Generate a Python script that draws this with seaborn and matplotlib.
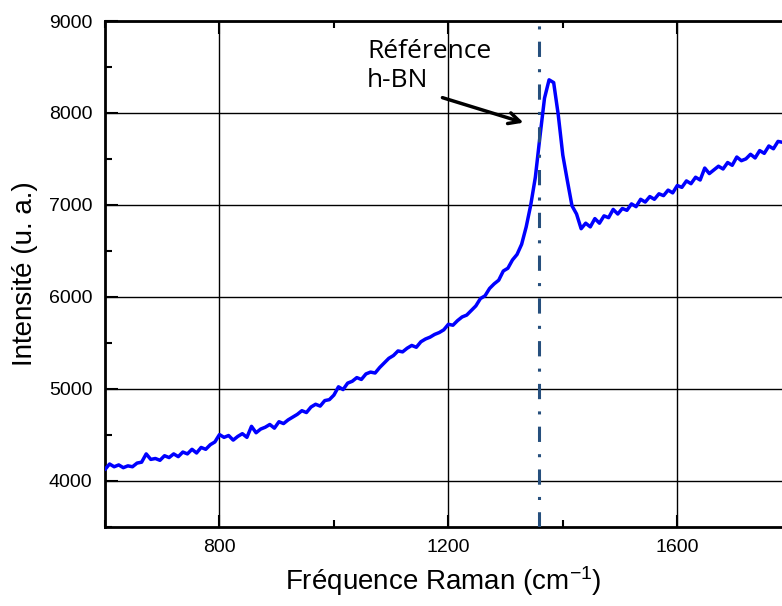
import matplotlib
matplotlib.use("Agg")
import matplotlib.pyplot as plt
from matplotlib.ticker import MultipleLocator
import numpy as np
import pandas as pd
import seaborn as sns

# Raman spectrum (wavenumber in cm-1, intensity in arbitrary units)
wavenumber = [
    600, 608, 616, 624, 632, 640, 648, 656, 664, 672, 680, 688, 696, 704, 712, 720,
    728, 736, 744, 752, 760, 768, 776, 784, 792, 800, 808, 816, 824, 832, 840, 848,
    856, 864, 872, 880, 888, 896, 904, 912, 920, 928, 936, 944, 952, 960, 968, 976,
    984, 992, 1000, 1008, 1016, 1024, 1032, 1040, 1048, 1056, 1064, 1072, 1080, 1088,
    1096, 1104, 1112, 1120, 1128, 1136, 1144, 1152, 1160, 1168, 1176, 1184, 1192, 1200,
    1208, 1216, 1224, 1232, 1240, 1248, 1256, 1264, 1272, 1280, 1288, 1296, 1304, 1312,
    1320, 1328, 1336, 1344, 1352, 1360, 1368, 1376, 1384, 1392, 1400, 1408, 1416, 1424,
    1432, 1440, 1448, 1456, 1464, 1472, 1480, 1488, 1496, 1504, 1512, 1520, 1528, 1536,
    1544, 1552, 1560, 1568, 1576, 1584, 1592, 1600, 1608, 1616, 1624, 1632, 1640, 1648,
    1656, 1664, 1672, 1680, 1688, 1696, 1704, 1712, 1720, 1728, 1736, 1744, 1752, 1760,
    1768, 1776, 1784,
]
intensity = [
    4120, 4180, 4150, 4170, 4140, 4160, 4150, 4190, 4200, 4290, 4230, 4240, 4220, 4270, 4250, 4290,
    4260, 4310, 4290, 4340, 4300, 4360, 4340, 4390, 4420, 4500, 4470, 4490, 4440, 4480, 4510, 4470,
    4590, 4520, 4560, 4580, 4610, 4570, 4640, 4620, 4660, 4690, 4720, 4760, 4740, 4800, 4830, 4810,
    4870, 4880, 4930, 5020, 4990, 5060, 5080, 5120, 5100, 5160, 5180, 5170, 5230, 5280,
    5330, 5360, 5410, 5400, 5440, 5470, 5450, 5510, 5540, 5560, 5590, 5610, 5640, 5700,
    5690, 5740, 5780, 5800, 5850, 5900, 5980, 6010, 6090, 6140, 6180, 6280, 6310, 6400,
    6460, 6570, 6760, 7000, 7300, 7740, 8160, 8360, 8330, 7980, 7540, 7260, 6990, 6900,
    6740, 6800, 6760, 6850, 6800, 6880, 6860, 6950, 6900, 6960, 6940, 7010, 6980, 7060,
    7030, 7090, 7060, 7120, 7100, 7160, 7130, 7210, 7190, 7260, 7230, 7300, 7270, 7400,
    7340, 7380, 7420, 7390, 7460, 7430, 7520, 7480, 7500, 7550, 7510, 7590, 7560, 7640,
    7610, 7690, 7680,
]
reference_band = 1359  # h-BN reference position (cm-1)
annotation = "Référence\nh-BN"
x_label = "Fréquence Raman (cm$^{-1}$)"
y_label = "Intensité (u. a.)"

sns.set_theme(style="ticks")
plt.rcParams["font.family"] = ["Liberation Sans", "DejaVu Sans"]
plt.rcParams["mathtext.fontset"] = "custom"
plt.rcParams["mathtext.rm"] = "Liberation Sans"
plt.rcParams["mathtext.default"] = "regular"
plt.rcParams["text.color"] = "black"
plt.rcParams["axes.labelcolor"] = "black"

df = pd.DataFrame({"wavenumber": wavenumber, "intensity": intensity})

W, H = 782, 606
fig = plt.figure(figsize=(W / 100, H / 100), dpi=100)
ax = fig.add_axes([105 / W, (H - 526.5) / H, (W - 105) / W, (526.5 - 21) / H])

ax.set_xlim(600, 1783)
ax.set_ylim(3500, 9000)

ax.grid(True, which="major", color="black", linewidth=1.0)
ax.set_axisbelow(True)

sns.lineplot(data=df, x="wavenumber", y="intensity", ax=ax, color="#0000ff",
             linewidth=2.5, zorder=3)

ax.axvline(reference_band, color="#264f7d", linewidth=2.2,
           linestyle=(0, (5, 4, 1, 4)), zorder=4)

ax.text(1058, 8800, annotation, fontsize=19, family=["Open Sans", "DejaVu Sans"],
        color="black", ha="left", va="top", linespacing=1.2, zorder=5)
ax.annotate("", xy=(1336, 7885), xytext=(1185, 8175),
            arrowprops=dict(arrowstyle="->", color="black", lw=2.5,
                            mutation_scale=20), zorder=5)

ax.xaxis.set_major_locator(MultipleLocator(400))
ax.xaxis.set_minor_locator(MultipleLocator(200))
ax.yaxis.set_major_locator(MultipleLocator(1000))
ax.yaxis.set_minor_locator(MultipleLocator(500))
ax.tick_params(axis="both", which="both", direction="in", top=True, right=False,
               colors="black", labelcolor="black", labelsize=14, width=1.5)
ax.tick_params(axis="both", which="major", length=9, pad=9)
ax.tick_params(axis="both", which="minor", length=5)

for side in ["left", "bottom", "top"]:
    ax.spines[side].set_linewidth(2.0)
    ax.spines[side].set_color("black")
ax.spines["right"].set_visible(False)

ax.set_xlabel(x_label, fontsize=20, labelpad=6, color="black")
ax.set_ylabel(y_label, fontsize=20, labelpad=8, color="black")

fig.savefig("out.png", dpi=100, facecolor="white")
